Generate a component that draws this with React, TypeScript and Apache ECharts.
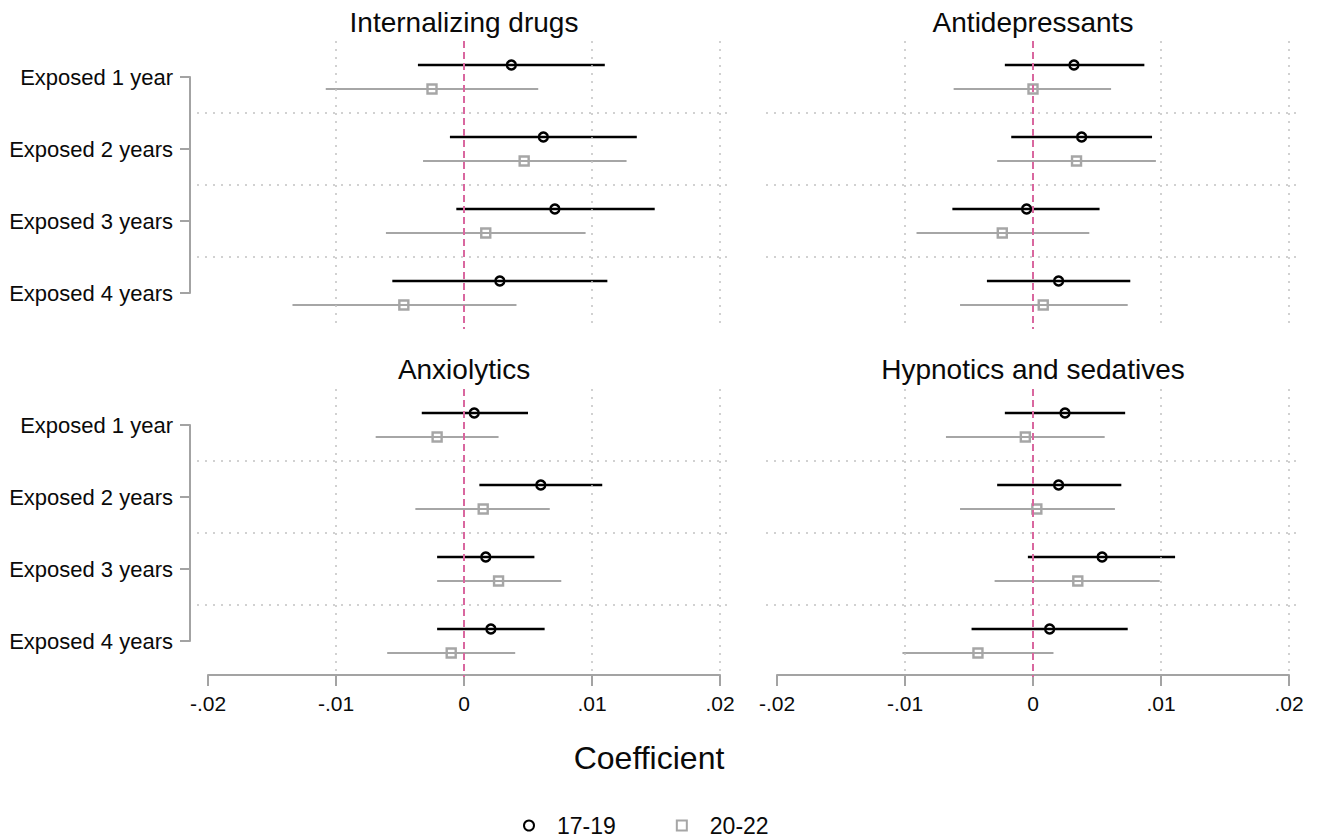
import React, { useEffect, useRef } from 'react';
import * as echarts from 'echarts';

// ---------- data ----------
const categories = ['Exposed 1 year', 'Exposed 2 years', 'Exposed 3 years', 'Exposed 4 years'];
const panelTitles = ['Internalizing drugs', 'Antidepressants', 'Anxiolytics', 'Hypnotics and sedatives'];
const seriesNames = ['17-19', '20-22'];
const xTickLabels = ['-.02', '-.01', '0', '.01', '.02'];
const xMin = -0.02;
const xMax = 0.02;
const xStep = 0.01;
const xGridValues = [-0.01, 0.01, 0.02];
const refValue = 0;

// Internalizing drugs
const internalizing17Est = [0.0037, 0.0062, 0.0071, 0.0028];
const internalizing17Lo = [-0.0036, -0.0011, -0.0006, -0.0056];
const internalizing17Hi = [0.011, 0.0135, 0.0149, 0.0112];
const internalizing20Est = [-0.0025, 0.0047, 0.0017, -0.0047];
const internalizing20Lo = [-0.0108, -0.0032, -0.0061, -0.0134];
const internalizing20Hi = [0.0058, 0.0127, 0.0095, 0.0041];

// Antidepressants
const antidep17Est = [0.0032, 0.0038, -0.0005, 0.002];
const antidep17Lo = [-0.0022, -0.0017, -0.0063, -0.0036];
const antidep17Hi = [0.0087, 0.0093, 0.0052, 0.0076];
const antidep20Est = [0.0, 0.0034, -0.0024, 0.0008];
const antidep20Lo = [-0.0062, -0.0028, -0.0091, -0.0057];
const antidep20Hi = [0.0061, 0.0096, 0.0044, 0.0074];

// Anxiolytics
const anxio17Est = [0.0008, 0.006, 0.0017, 0.0021];
const anxio17Lo = [-0.0033, 0.0012, -0.0021, -0.0021];
const anxio17Hi = [0.005, 0.0108, 0.0055, 0.0063];
const anxio20Est = [-0.0021, 0.0015, 0.0027, -0.001];
const anxio20Lo = [-0.0069, -0.0038, -0.0021, -0.006];
const anxio20Hi = [0.0027, 0.0067, 0.0076, 0.004];

// Hypnotics and sedatives
const hypno17Est = [0.0025, 0.002, 0.0054, 0.0013];
const hypno17Lo = [-0.0022, -0.0028, -0.0004, -0.0048];
const hypno17Hi = [0.0072, 0.0069, 0.0111, 0.0074];
const hypno20Est = [-0.0006, 0.0003, 0.0035, -0.0043];
const hypno20Lo = [-0.0068, -0.0057, -0.003, -0.0102];
const hypno20Hi = [0.0056, 0.0064, 0.0099, 0.0016];

// ---------- styles / layout ----------
const FONT = '"Liberation Sans", Arial, Helvetica, sans-serif';
const TEXT = '#0a0a0a';
const BLACK = '#000000';
const GRAY = '#a6a6a6';
const AXIS_GRAY = '#a3a3a3';
const GRID_GRAY = '#c2c2c2';
const PINK = '#d9679f';

const PLOT_W = 534;
const PLOT_H = 288;
const BAND = PLOT_H / categories.length;
const XPAD = ((xMax - xMin) * 11) / 512;
const OFFSET = 1 / 6;

const layout = [
  { left: 197, top: 41, cx: 464, titleY: 22 },
  { left: 766, top: 41, cx: 1033, titleY: 22 },
  { left: 197, top: 389, cx: 464, titleY: 369 },
  { left: 766, top: 389, cx: 1033, titleY: 369 },
];

const panels = [
  {
    groups: [
      { est: internalizing17Est, lo: internalizing17Lo, hi: internalizing17Hi },
      { est: internalizing20Est, lo: internalizing20Lo, hi: internalizing20Hi },
    ],
  },
  {
    groups: [
      { est: antidep17Est, lo: antidep17Lo, hi: antidep17Hi },
      { est: antidep20Est, lo: antidep20Lo, hi: antidep20Hi },
    ],
  },
  {
    groups: [
      { est: anxio17Est, lo: anxio17Lo, hi: anxio17Hi },
      { est: anxio20Est, lo: anxio20Lo, hi: anxio20Hi },
    ],
  },
  {
    groups: [
      { est: hypno17Est, lo: hypno17Lo, hi: hypno17Hi },
      { est: hypno20Est, lo: hypno20Lo, hi: hypno20Hi },
    ],
  },
];

const groupStyle = [
  { line: BLACK, lineWidth: 2.6, symbol: 'circle', border: BLACK, borderWidth: 2.4 },
  { line: GRAY, lineWidth: 2.2, symbol: 'rect', border: GRAY, borderWidth: 2.4 },
];

function buildOption() {
  const grid: any[] = [];
  const xAxis: any[] = [];
  const yAxis: any[] = [];
  const series: any[] = [];
  const graphic: any[] = [];

  // data grids
  layout.forEach((l, i) => {
    grid.push({ left: l.left, top: l.top, width: PLOT_W, height: PLOT_H });
    xAxis.push({ type: 'value', gridIndex: i, min: xMin - XPAD, max: xMax + XPAD, show: false });
    yAxis.push({ type: 'value', gridIndex: i, min: 0.5, max: categories.length + 0.5, inverse: true, show: false });
  });

  // y-label bracket grids (left panels)
  [0, 2].forEach((pi) => {
    const l = layout[pi];
    const gi = grid.length;
    grid.push({ left: 190, top: l.top + BAND / 2, width: 10, height: BAND * (categories.length - 1) });
    xAxis.push({ type: 'value', gridIndex: gi, show: false, min: 0, max: 1 });
    yAxis.push({
      type: 'value',
      gridIndex: gi,
      min: 1,
      max: categories.length,
      interval: 1,
      inverse: true,
      axisLine: { show: true, lineStyle: { color: AXIS_GRAY, width: 2 } },
      axisTick: { show: true, length: 10, lineStyle: { color: AXIS_GRAY, width: 2 } },
      splitLine: { show: false },
      axisLabel: {
        show: true,
        margin: 17,
        fontSize: 22,
        fontFamily: FONT,
        color: TEXT,
        showMinLabel: true,
        showMaxLabel: true,
        formatter: (v: number) => categories[Math.round(v) - 1] || '',
      },
    });
  });

  // x-axis grids (bottom panels)
  [2, 3].forEach((pi) => {
    const l = layout[pi];
    const gi = grid.length;
    grid.push({ left: l.left + 11, top: l.top, width: 512, height: PLOT_H - 2 });
    xAxis.push({
      type: 'value',
      gridIndex: gi,
      min: xMin,
      max: xMax,
      interval: xStep,
      axisLine: { show: true, onZero: false, lineStyle: { color: AXIS_GRAY, width: 2 } },
      axisTick: { show: true, length: 11, lineStyle: { color: AXIS_GRAY, width: 2 } },
      splitLine: { show: false },
      axisLabel: {
        show: true,
        margin: 18,
        fontSize: 21,
        fontFamily: FONT,
        color: TEXT,
        showMinLabel: true,
        showMaxLabel: true,
        formatter: (v: number) => xTickLabels[Math.round((v - xMin) / xStep)] ?? '',
      },
    });
    yAxis.push({ type: 'value', gridIndex: gi, show: false, min: 0, max: 1 });
  });

  panels.forEach((p, i) => {
    // grid / reference lines
    const mlData: any[] = [];
    xGridValues.forEach((v) =>
      mlData.push({ xAxis: v, lineStyle: { color: GRID_GRAY, width: 1.5, type: [2, 6] } })
    );
    for (let k = 1; k < categories.length; k++) {
      mlData.push({ yAxis: k + 0.5, lineStyle: { color: GRID_GRAY, width: 1.5, type: [2, 6] } });
    }
    mlData.push({ xAxis: refValue, lineStyle: { color: PINK, width: 2, type: [7, 4] } });
    series.push({
      type: 'scatter',
      name: 'grid-' + i,
      xAxisIndex: i,
      yAxisIndex: i,
      data: [],
      z: 1,
      silent: true,
      markLine: {
        silent: true,
        symbol: ['none', 'none'],
        label: { show: false },
        animation: false,
        data: mlData,
      },
    });

    p.groups.forEach((g, gi) => {
      const st = groupStyle[gi];
      const off = gi === 0 ? -OFFSET : OFFSET;
      series.push({
        type: 'custom',
        name: 'ci-' + gi + '-' + i,
        xAxisIndex: i,
        yAxisIndex: i,
        z: 2,
        silent: true,
        encode: { x: [0, 1], y: 2 },
        data: categories.map((_, k) => [g.lo[k], g.hi[k], k + 1 + off]),
        renderItem: (params: any, api: any) => {
          const a = api.coord([api.value(0), api.value(2)]);
          const b = api.coord([api.value(1), api.value(2)]);
          return {
            type: 'line',
            shape: { x1: a[0], y1: a[1], x2: b[0], y2: b[1] },
            style: { stroke: st.line, lineWidth: st.lineWidth },
          };
        },
      });
      series.push({
        type: 'scatter',
        name: seriesNames[gi],
        xAxisIndex: i,
        yAxisIndex: i,
        z: 3,
        silent: true,
        symbol: st.symbol,
        symbolSize: 9,
        itemStyle: { color: 'rgba(255,255,255,0)', borderColor: st.border, borderWidth: st.borderWidth, opacity: 1 },
        data: categories.map((_, k) => [g.est[k], k + 1 + off]),
      });
    });

    graphic.push({
      type: 'text',
      x: layout[i].cx,
      y: layout[i].titleY,
      style: {
        text: panelTitles[i],
        fontSize: 28,
        fontFamily: FONT,
        fill: TEXT,
        align: 'center',
        verticalAlign: 'middle',
      },
    });
  });

  graphic.push({
    type: 'text',
    x: 649,
    y: 758,
    style: {
      text: 'Coefficient',
      fontSize: 32,
      fontFamily: FONT,
      fill: TEXT,
      align: 'center',
      verticalAlign: 'middle',
    },
  });

  return {
    animation: false,
    backgroundColor: '#ffffff',
    grid,
    xAxis,
    yAxis,
    series,
    graphic,
    legend: {
      data: seriesNames.map((name) => ({ name })),
      left: 518,
      top: 809,
      itemWidth: 10,
      itemHeight: 10,
      itemGap: 60,
      selectedMode: false,
      textStyle: { fontSize: 23, fontFamily: FONT, color: TEXT, padding: [0, 0, 0, 18] },
    },
  };
}

export default function App() {
  const ref = useRef<HTMLDivElement>(null);
  useEffect(() => {
    if (!ref.current) return;
    const chart = echarts.init(ref.current, undefined, { renderer: 'svg' });
    chart.setOption(buildOption() as any);
    return () => chart.dispose();
  }, []);
  return (
    <div
      ref={ref}
      style={{ position: 'fixed', left: 0, top: 0, width: 1317, height: 838, background: '#fff' }}
    />
  );
}
